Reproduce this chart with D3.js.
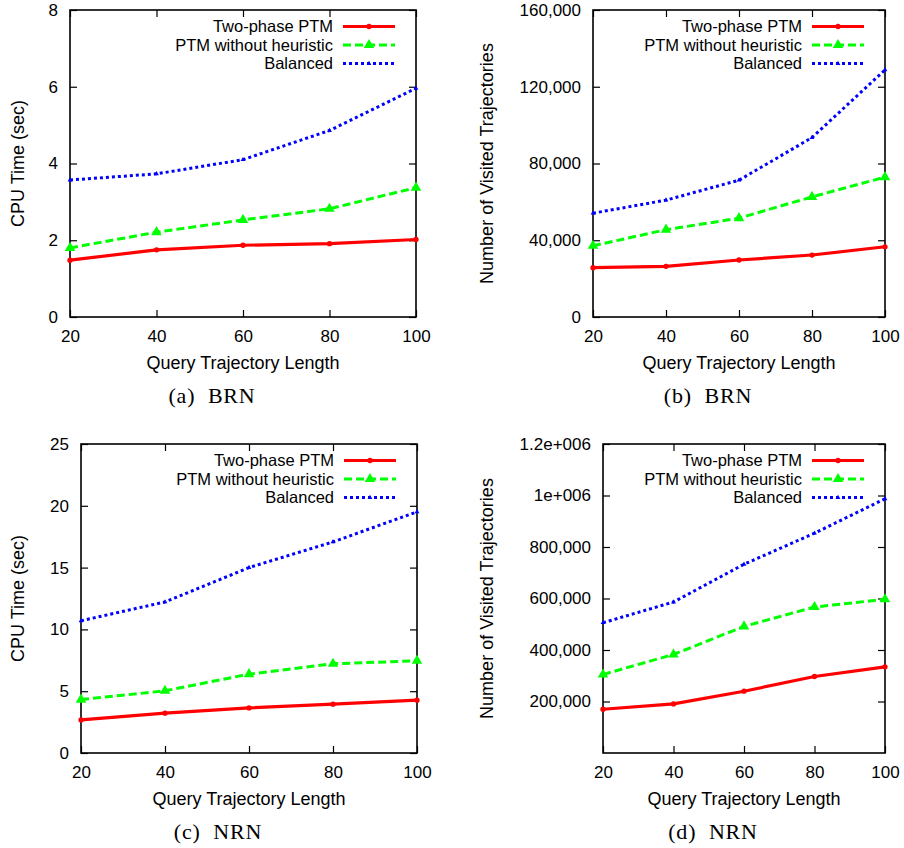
<!DOCTYPE html>
<html>
<head>
<meta charset="utf-8">
<script src="https://cdn.jsdelivr.net/npm/d3@7"></script>
<style>
  body { margin: 0; background: #fff; }
  text { font-family: "Liberation Sans", Arial, sans-serif; fill: #000; }
</style>
</head>
<body>
<svg id="chart" width="904" height="848"></svg>
<script>
// x values shared by all four panels
const queryLengths = [20, 40, 60, 80, 100];
const seriesNames = ["Two-phase PTM", "PTM without heuristic", "Balanced"];

// (a) BRN, CPU time (sec)
const brnCpuTwoPhase = [1.48, 1.75, 1.87, 1.91, 2.02];
const brnCpuNoHeuristic = [1.80, 2.21, 2.53, 2.82, 3.37];
const brnCpuBalanced = [3.57, 3.73, 4.10, 4.86, 5.96];
const brnCpuTicks = [0, 2, 4, 6, 8];
const brnCpuTickLabels = ["0", "2", "4", "6", "8"];

// (b) BRN, visited trajectories
const brnVisitedTwoPhase = [25700, 26400, 29700, 32300, 36600];
const brnVisitedNoHeuristic = [37100, 45500, 51500, 62600, 72900];
const brnVisitedBalanced = [54100, 60900, 71300, 93500, 128800];
const brnVisitedTicks = [0, 40000, 80000, 120000, 160000];
const brnVisitedTickLabels = ["0", "40,000", "80,000", "120,000", "160,000"];

// (c) NRN, CPU time (sec)
const nrnCpuTwoPhase = [2.68, 3.22, 3.65, 3.95, 4.27];
const nrnCpuNoHeuristic = [4.32, 5.03, 6.38, 7.22, 7.46];
const nrnCpuBalanced = [10.70, 12.22, 15.00, 17.08, 19.51];
const nrnCpuTicks = [0, 5, 10, 15, 20, 25];
const nrnCpuTickLabels = ["0", "5", "10", "15", "20", "25"];

// (d) NRN, visited trajectories
const nrnVisitedTwoPhase = [169900, 190700, 240000, 297100, 334700];
const nrnVisitedNoHeuristic = [304900, 382700, 491700, 566900, 596800];
const nrnVisitedBalanced = [505900, 586400, 733000, 853600, 987200];
const nrnVisitedTicks = [200000, 400000, 600000, 800000, 1000000, 1200000];
const nrnVisitedTickLabels = ["200,000", "400,000", "600,000", "800,000", "1e+006", "1.2e+006"];

const panels = [
  { left: 70, right: 416, top: 10, bottom: 317, yMax: 8, ticks: brnCpuTicks, tickLabels: brnCpuTickLabels,
    yLabel: "CPU Time (sec)", yLabelX: 18, caption: "(a)", dataset: "BRN",
    series: [brnCpuTwoPhase, brnCpuNoHeuristic, brnCpuBalanced] },
  { left: 593, right: 885, top: 10, bottom: 317, yMax: 160000, ticks: brnVisitedTicks, tickLabels: brnVisitedTickLabels,
    yLabel: "Number of Visited Trajectories", yLabelX: 487, caption: "(b)", dataset: "BRN",
    series: [brnVisitedTwoPhase, brnVisitedNoHeuristic, brnVisitedBalanced] },
  { left: 81, right: 417, top: 444, bottom: 753, yMax: 25, ticks: nrnCpuTicks, tickLabels: nrnCpuTickLabels,
    yLabel: "CPU Time (sec)", yLabelX: 18, caption: "(c)", dataset: "NRN",
    series: [nrnCpuTwoPhase, nrnCpuNoHeuristic, nrnCpuBalanced] },
  { left: 603, right: 885, top: 444, bottom: 753, yMax: 1200000, ticks: nrnVisitedTicks, tickLabels: nrnVisitedTickLabels,
    yLabel: "Number of Visited Trajectories", yLabelX: 487, caption: "(d)", dataset: "NRN",
    series: [nrnVisitedTwoPhase, nrnVisitedNoHeuristic, nrnVisitedBalanced] }
];

// gnuplot-like styles: solid red w/ dots, dashed green w/ triangles, dotted blue w/ small triangles
const styles = [
  { color: "#ff0000", dash: null, width: 3.2, marker: "circle", size: 22 },
  { color: "#00ff00", dash: "8,4", width: 3, marker: "triangle", size: 48 },
  { color: "#0000ff", dash: "3,3", width: 3, marker: "triangle", size: 10 }
];

const svg = d3.select("#chart");
svg.append("rect").attr("width", 904).attr("height", 848).attr("fill", "#fff");

const tickLen = 7;

panels.forEach(p => {
  const g = svg.append("g");
  const x = d3.scaleLinear().domain([20, 100]).range([p.left, p.right]);
  const y = d3.scaleLinear().domain([0, p.yMax]).range([p.bottom, p.top]);

  // axes with inward ticks on all four sides
  const bottomAxis = g.append("g").attr("transform", `translate(0,${p.bottom})`)
    .call(d3.axisBottom(x).tickValues(queryLengths).tickSizeInner(-tickLen).tickSizeOuter(0).tickPadding(13));
  const topAxis = g.append("g").attr("transform", `translate(0,${p.top})`)
    .call(d3.axisTop(x).tickValues(queryLengths).tickSizeInner(-tickLen).tickSizeOuter(0).tickFormat(""));
  const leftAxis = g.append("g").attr("transform", `translate(${p.left},0)`)
    .call(d3.axisLeft(y).tickValues(p.ticks).tickSizeInner(-tickLen).tickSizeOuter(0).tickPadding(12)
      .tickFormat((d, i) => p.tickLabels[i]));
  const rightAxis = g.append("g").attr("transform", `translate(${p.right},0)`)
    .call(d3.axisRight(y).tickValues(p.ticks).tickSizeInner(-tickLen).tickSizeOuter(0).tickFormat(""));

  [bottomAxis, topAxis, leftAxis, rightAxis].forEach(a => {
    a.select(".domain").remove();
    a.selectAll(".tick line").attr("stroke", "#000").attr("stroke-width", 1.2);
    a.selectAll("text").style("font-family", "'Liberation Sans', Arial, sans-serif").style("font-size", "17px").attr("fill", "#000");
  });

  g.append("rect")
    .attr("x", p.left).attr("y", p.top)
    .attr("width", p.right - p.left).attr("height", p.bottom - p.top)
    .attr("fill", "none").attr("stroke", "#000").attr("stroke-width", 1.6);

  // axis titles
  g.append("text")
    .attr("x", (p.left + p.right) / 2).attr("y", p.bottom + 46).attr("dy", "0.35em")
    .attr("text-anchor", "middle").style("font-size", "18px")
    .text("Query Trajectory Length");
  g.append("text")
    .attr("transform", `translate(${p.yLabelX},${(p.top + p.bottom) / 2}) rotate(-90)`)
    .attr("dy", "0.35em").attr("text-anchor", "middle").style("font-size", "18px")
    .text(p.yLabel);

  // caption
  g.append("text")
    .attr("x", (p.left + p.right) / 2 - 31).attr("y", p.bottom + 78).attr("dy", "0.35em")
    .attr("text-anchor", "middle")
    .style("font-family", "'Liberation Serif', 'DejaVu Serif', serif").style("font-size", "22px")
    .style("letter-spacing", "0.8px").style("white-space", "pre")
    .text(p.caption + "  " + p.dataset);

  // series lines and markers
  const line = d3.line()
    .x((d, i) => x(queryLengths[i]))
    .y(d => y(d));

  p.series.forEach((values, s) => {
    const st = styles[s];
    g.append("path")
      .datum(values)
      .attr("d", line)
      .attr("fill", "none")
      .attr("stroke", st.color)
      .attr("stroke-width", st.width)
      .attr("stroke-dasharray", st.dash)
      .attr("stroke-linejoin", "round");
    const sym = d3.symbol().type(st.marker === "circle" ? d3.symbolCircle : d3.symbolTriangle).size(st.size);
    g.selectAll(null).data(values).enter().append("path")
      .attr("transform", (d, i) => `translate(${x(queryLengths[i])},${y(d)})`)
      .attr("d", sym)
      .attr("fill", st.color);
  });

  // legend, top right inside the frame
  seriesNames.forEach((name, s) => {
    const st = styles[s];
    const rowY = p.top + 16.5 + s * 18.5;
    g.append("text")
      .attr("x", p.right - 83).attr("y", rowY).attr("dy", "0.35em")
      .attr("text-anchor", "end").style("font-size", "16.5px")
      .text(name);
    g.append("line")
      .attr("x1", p.right - 73).attr("x2", p.right - 21)
      .attr("y1", rowY).attr("y2", rowY)
      .attr("stroke", st.color).attr("stroke-width", st.width)
      .attr("stroke-dasharray", st.dash);
    g.append("path")
      .attr("transform", `translate(${p.right - 47},${rowY})`)
      .attr("d", d3.symbol().type(st.marker === "circle" ? d3.symbolCircle : d3.symbolTriangle).size(st.size)())
      .attr("fill", st.color);
  });
});
</script>
</body>
</html>
